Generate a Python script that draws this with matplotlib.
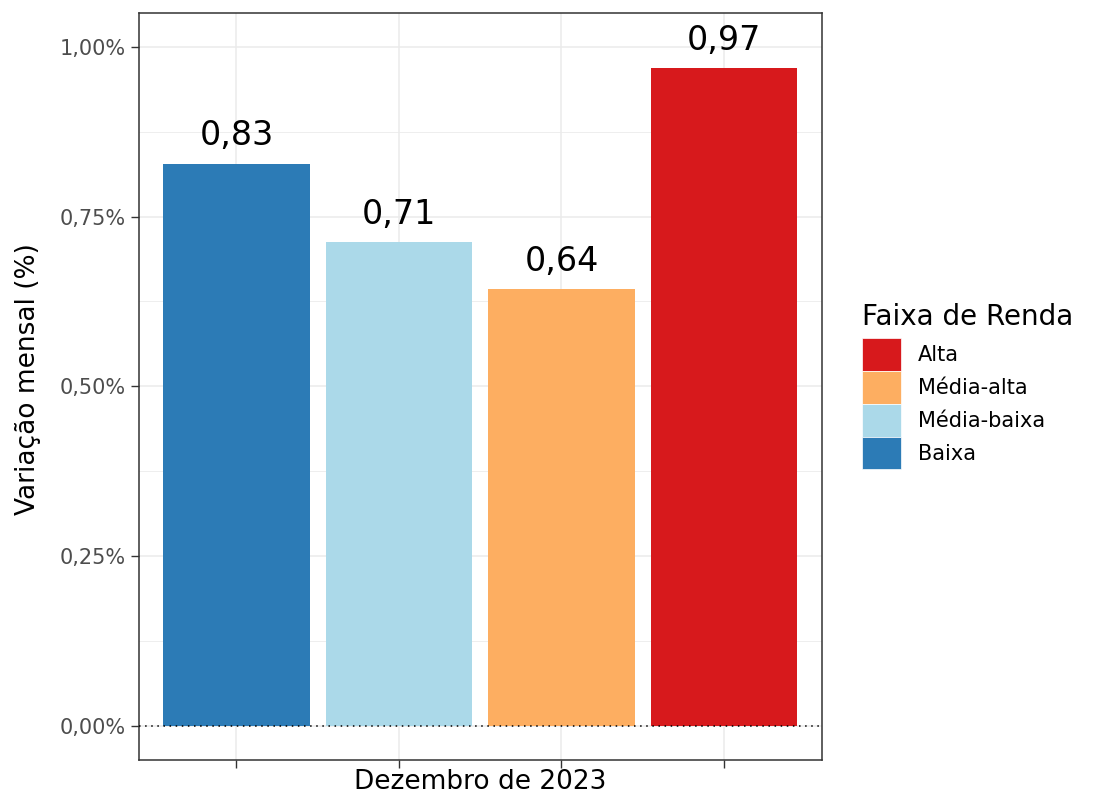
import matplotlib
matplotlib.use("Agg")
import matplotlib.pyplot as plt
from matplotlib.patches import Patch
from matplotlib.ticker import FuncFormatter, MultipleLocator

plt.rcParams['font.family'] = ['DejaVu Sans']

categories = ["Baixa", "Média-baixa", "Média-alta", "Alta"]
values = [0.828, 0.713, 0.643, 0.968]
labels = ["0,83", "0,71", "0,64", "0,97"]
colors = ["#2C7BB6", "#ABD9E9", "#FDAE61", "#D7191C"]
legend_order = ["Alta", "Média-alta", "Média-baixa", "Baixa"]
x_title = "Dezembro de 2023"
y_title = "Variação mensal (%)"
legend_title = "Faixa de Renda"

W, H = 1106, 794
fig = plt.figure(figsize=(W / 100, H / 100), dpi=100)
L, R, T, B = 138.7, 821.7, 12.7, 760.0
ax = fig.add_axes([L / W, 1 - B / H, (R - L) / W, (B - T) / H])

xs = list(range(1, len(categories) + 1))
ax.bar(xs, values, width=0.9, color=colors, edgecolor='none', zorder=2)
for x, v, t in zip(xs, values, labels):
    ax.annotate(t, (x, v), xytext=(0, 13), textcoords='offset points',
                ha='center', va='baseline', fontsize=24, color='black', zorder=3)

ax.axhline(0, color='black', linestyle=(0, (1, 3)), linewidth=1.1, zorder=3)

ax.set_xlim(0.399, 4.601)
ax.set_ylim(-0.05, 1.05)
ax.set_xticks(xs)
ax.set_xticklabels([""] * len(xs))
ax.yaxis.set_major_locator(MultipleLocator(0.25))
ax.yaxis.set_minor_locator(MultipleLocator(0.125))
ax.yaxis.set_major_formatter(FuncFormatter(lambda v, p: f"{v:.2f}%".replace('.', ',')))
ax.tick_params(axis='y', which='minor', length=0)
ax.tick_params(axis='both', which='major', length=5.5, width=1, color='#333333',
               labelsize=15, labelcolor='#4D4D4D', pad=4)

ax.grid(True, which='major', color='#EBEBEB', linewidth=1.1, zorder=0)
ax.grid(True, which='minor', axis='y', color='#EBEBEB', linewidth=0.6, zorder=0)
ax.set_axisbelow(True)
for s in ax.spines.values():
    s.set_color('#333333')
    s.set_linewidth(1.1)

ax.set_xlabel(x_title, fontsize=19, color='black', va='baseline')
ax.xaxis.set_label_coords(0.5, (B - 789) / (B - T))
ax.set_ylabel(y_title, fontsize=19, color='black', va='center', ha='center')
ax.yaxis.set_label_coords((28 - L) / (R - L), 0.51)

cmap = dict(zip(categories, colors))
handles = [Patch(facecolor=cmap[c], edgecolor='white', linewidth=0.5, label=c) for c in legend_order]
leg = fig.legend(handles=handles, title=legend_title, loc='upper left',
                 bbox_to_anchor=(862 / W, (H - 303) / H),
                 frameon=False, fontsize=15, title_fontsize=20,
                 handlelength=39 / 20.8, handleheight=2.05, handletextpad=0.8,
                 labelspacing=0.0, borderpad=0, borderaxespad=0,
                 alignment='left')
leg._legend_box.sep = 5

fig.savefig("out.png", dpi=100)
